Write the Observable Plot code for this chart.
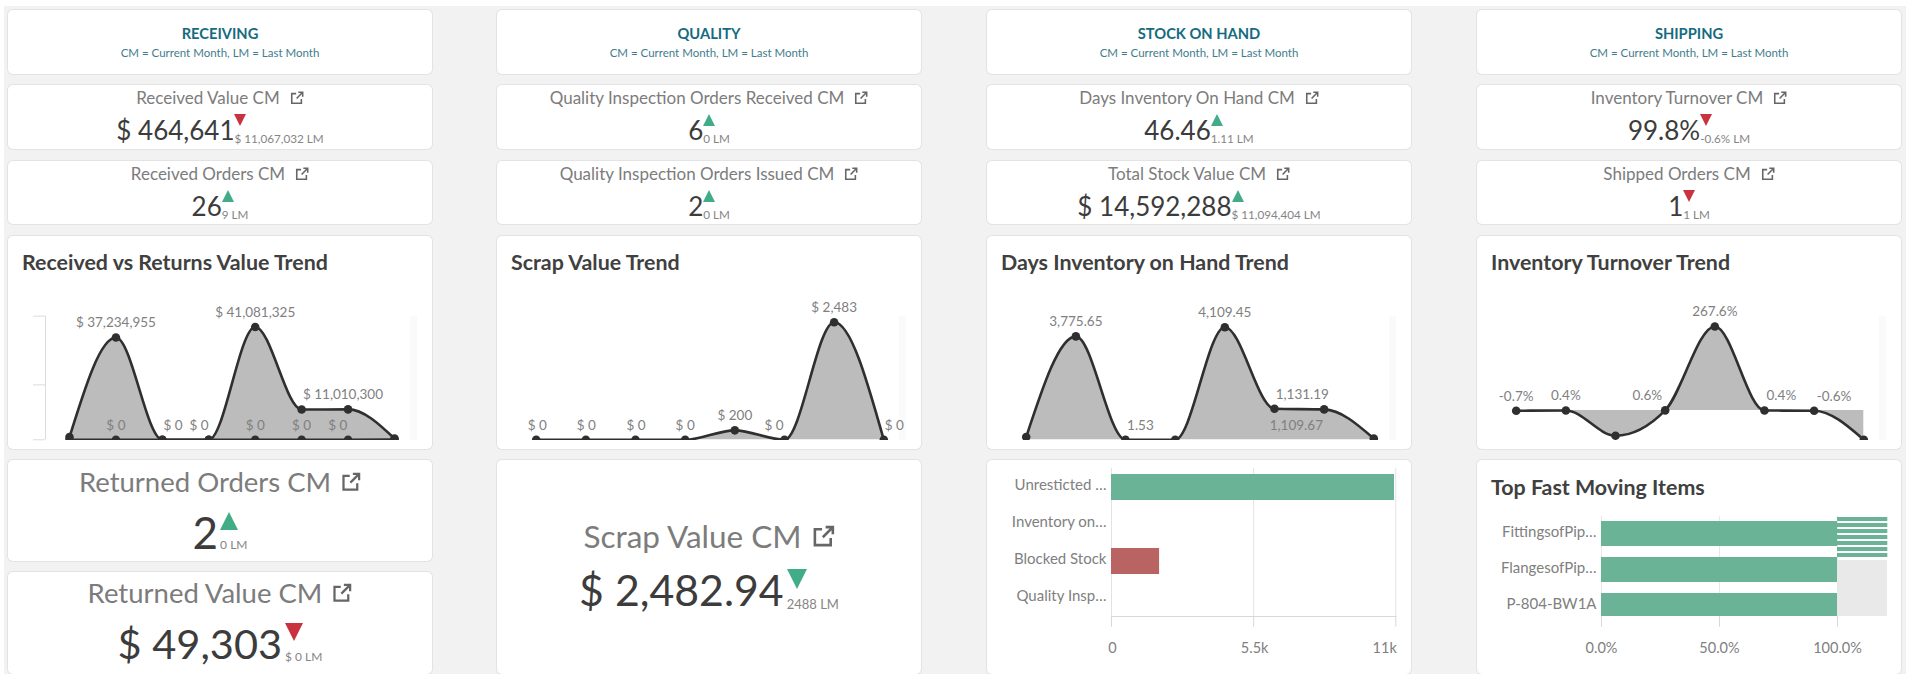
<!DOCTYPE html>
<html>
<head>
<meta charset="utf-8">
<script src="https://cdn.jsdelivr.net/npm/d3@7"></script>
<script src="https://cdn.jsdelivr.net/npm/@observablehq/plot@0.6"></script>
<style>
html,body{margin:0;padding:0;background:#fff;overflow:hidden;font-family:Lato,"Noto Sans",sans-serif}
#root{position:relative;width:1909px;height:674px;overflow:hidden;background:#fff}
#bg{position:absolute;left:4px;top:6px;width:1902px;height:668px;background:#f2f2f2}
.p{position:absolute;background:#fff;border-radius:5px;box-shadow:0 0 0 1px #e3e3e3;overflow:hidden}
.row{position:absolute;left:0;right:0;height:0;display:flex;justify-content:center;line-height:0;white-space:nowrap}
.hd{font-weight:700;color:#146b80}
.sub{color:#3f7c8c}
.lab{color:#7c7c7c}
.val{color:#3c3c3c}
.lm{color:#858585;display:block;position:relative}
.side{position:relative;height:0}
.ic{position:relative;height:0}
.ic svg{position:absolute;left:0}
.tri{position:absolute;left:0;width:0;height:0}
.ttl{position:absolute;left:14px;line-height:0;font-weight:700;color:#404040;white-space:nowrap}
.p svg.plot, .p svg{position:absolute;left:0;top:0}
.strip{position:absolute;background:#fafafa}
</style>
</head>
<body>
<div id="root"><div id="bg"></div></div>
<script>
// ---------- data ----------
const sections = ["RECEIVING","QUALITY","STOCK ON HAND","SHIPPING"];
const legendNote = "CM = Current Month, LM = Last Month";

const kpiLabels = [
  ["Received Value CM","Received Orders CM"],
  ["Quality Inspection Orders Received CM","Quality Inspection Orders Issued CM"],
  ["Days Inventory On Hand CM","Total Stock Value CM"],
  ["Inventory Turnover CM","Shipped Orders CM"]
];
const kpiValues = [["$ 464,641","26"],["6","2"],["46.46","$ 14,592,288"],["99.8%","1"]];
const kpiLast = [["$ 11,067,032 LM","9 LM"],["0 LM","0 LM"],["1.11 LM","$ 11,094,404 LM"],["-0.6% LM","1 LM"]];
const kpiTrend = [["down","up"],["up","up"],["up","up"],["down","down"]];

const trendTitles = ["Received vs Returns Value Trend","Scrap Value Trend","Days Inventory on Hand Trend","Inventory Turnover Trend"];
const slots = [0,1,2,3,4,5,6,7];

const receivedValue = [1000000,37234955,0,0,41081325,11010300,11067032,464641];
const receivedLabelSlots = [1,4,5];
const receivedLabels = ["$ 37,234,955","$ 41,081,325","$ 11,010,300"];
const returnsValue = [0,0,0,0,0,0,0,49303];
const returnsLabelSlots = [1,2,3,4,5,6];
const returnsLabels = ["$ 0","$ 0","$ 0","$ 0","$ 0","$ 0"];
const receivedAxisTicks = [0,20000000,45000000];

const scrapValue = [0,0,0,0,200,0,2483,0];
const scrapLabelSlots = [0,1,2,3,4,5,6,7];
const scrapLabels = ["$ 0","$ 0","$ 0","$ 0","$ 200","$ 0","$ 2,483","$ 0"];

const daysValue = [100,3775.65,1.53,1.5,4109.45,1131.19,1109.67,46.46];
const daysLabelSlots = [1,2,4,5,6];
const daysLabels = ["3,775.65","1.53","4,109.45","1,131.19","1,109.67"];

const turnoverValue = [-0.7,0.4,-80,0.6,267.6,0.4,-0.6,-93];
const turnoverLabelSlots = [0,1,3,4,5,6];
const turnoverLabels = ["-0.7%","0.4%","0.6%","267.6%","0.4%","-0.6%"];

const stockCategories = ["Unresticted …","Inventory on…","Blocked Stock","Quality Insp…"];
const stockValues = [10950,0,1860,0];
const stockColors = ["good","good","bad","good"];
const stockTicks = [0,5500,11000];
const stockTickLabels = ["0","5.5k","11k"];

const fastItems = ["FittingsofPip…","FlangesofPip…","P-804-BW1A"];
const fastValues = [100,100,100];
const fastTicks = [0,50,100];
const fastTickLabels = ["0.0%","50.0%","100.0%"];
const fastOverview = ["a","b","c","d","e","f","g"];
const fastOverviewValues = [100,100,100,100,100,100,100];

const returnedOrders = {label:"Returned Orders CM",value:"2",last:"0 LM",trend:"up"};
const returnedValue = {label:"Returned Value CM",value:"$ 49,303",last:"$ 0 LM",trend:"down"};
const scrapCM = {label:"Scrap Value CM",value:"$ 2,482.94",last:"2488 LM",trend:"goodDown"};

// ---------- layout ----------
const root = document.getElementById("root");
const colX = [8,497,987,1477], W = 424;
const FONT = "Lato";
const GREEN="#6bb396", RED="#b96363", LINE="#2f2f2f", GREY="#808080";
const triColor = {up:"#41ac86",down:"#c8333f",goodDown:"#41ac86"};
const noLabel = () => "";

function panel(x,y,w,h){
  const d=document.createElement("div");d.className="p";
  d.style.cssText=`left:${x}px;top:${y}px;width:${w}px;height:${h}px`;
  root.appendChild(d);return d;
}
function icon(size){
  const s=size;
  return `<span class="ic" style="width:${s}px;margin-left:10px"><svg style="top:${-s/2}px" width="${s}" height="${s}" viewBox="0 0 16 16" fill="none" stroke="#666" stroke-width="1.8"><path d="M7 3H2v11h11V9"/><path d="M9.5 1.5h5v5M14.5 1.5L7.5 8.5"/></svg></span>`;
}
function kpi(p,o,s){
  const up=o.trend==="up";
  const c=triColor[o.trend];
  const tri=up
   ?`border-left:${s.tw/2}px solid transparent;border-right:${s.tw/2}px solid transparent;border-bottom:${s.th}px solid ${c}`
   :`border-left:${s.tw/2}px solid transparent;border-right:${s.tw/2}px solid transparent;border-top:${s.th}px solid ${c}`;
  p.insertAdjacentHTML("beforeend",
   `<div class="row lab" style="top:${s.ly}px;font-size:${s.lf}px"><span>${o.label}</span>${icon(s.ic)}</div>
    <div class="row" style="top:${s.vy}px">
      <span class="val" style="font-size:${s.vf}px">${o.value}</span>
      <span class="side" style="margin-left:${s.gap}px"><span class="tri" style="top:${s.tt}px;${tri}"></span><span class="lm" style="top:${s.lo}px;font-size:${s.mf}px">${o.last}</span></span>
    </div>`);
}
const smallKpi=()=>({ly:13,lf:17,ic:14,vy:45,vf:26,gap:0,tw:13,th:12,tt:-16,lo:8,mf:11.7});

sections.forEach((t,i)=>{
  const h=panel(colX[i],10,W,64);
  h.insertAdjacentHTML("beforeend",
    `<div class="row hd" style="top:23px;font-size:14.7px">${t}</div><div class="row sub" style="top:43px;font-size:11.5px">${legendNote}</div>`);
  [[85,64],[161,63]].forEach(([y,hh],k)=>{
    const p=panel(colX[i],y,W,hh);
    kpi(p,{label:kpiLabels[i][k],value:kpiValues[i][k],last:kpiLast[i][k],trend:kpiTrend[i][k]},smallKpi());
  });
});

// ---------- trend charts ----------
const TH=213, BASE=203.3, FRAME=204;
function trend(col,title,o){
  const p=panel(colX[col],236,W,TH);
  p.insertAdjacentHTML("beforeend",`<div class="ttl" style="top:26px;font-size:21.4px">${title}</div><div class="strip" style="left:402px;top:80px;width:7px;height:124px"></div>`);
  const rows=(vals)=>slots.map(s=>({s,v:vals[s]}));
  const marks=[];
  if(o.axis) marks.push(
    Plot.axisY(o.axis,{anchor:"left",tickSize:12,tickFormat:noLabel,label:null,stroke:"#dcdcdc"}),
    Plot.ruleX([(37-o.xr[0])/((o.xr[1]-o.xr[0])/7)],{y1:o.axis[0],y2:o.axis[o.axis.length-1],stroke:"#dcdcdc"})
  );
  o.series.forEach(v=>{
    const data=rows(v);
    marks.push(Plot.areaY(data,{x:"s",y1:0,y2:"v",curve:"monotone-x",fill:"#bcbcbc",clip:true}));
  });
  o.series.forEach(v=>{
    const data=rows(v);
    marks.push(Plot.lineY(data,{x:"s",y:"v",curve:"monotone-x",stroke:LINE,strokeWidth:2.6,clip:true}));
    marks.push(Plot.dot(data,{x:"s",y:"v",r:4.3,fill:LINE,clip:true}));
  });
  o.labels.forEach(L=>{
    const vals=L.of, rowsL=L.slots.map((s,j)=>({x:s+(L.nudge?L.nudge[j]:0),y:vals[s],t:L.text[j]}));
    const top=rowsL.filter((d,j)=>!(L.below||[]).includes(j));
    const bot=rowsL.filter((d,j)=>(L.below||[]).includes(j));
    marks.push(Plot.text(top,{x:"x",y:"y",text:"t",dy:-14.5,fill:GREY,fontSize:13.5}));
    if(bot.length) marks.push(Plot.text(bot,{x:"x",y:"y",text:"t",dy:16,fill:GREY,fontSize:13.5}));
  });
  const chart=Plot.plot({
    width:W,height:TH,marginLeft:o.axis?37:0,marginRight:0,marginTop:0,marginBottom:TH-FRAME,
    x:{domain:[0,7],range:o.xr,axis:null},
    y:{domain:o.yd,range:o.yr,axis:null},
    style:{background:"transparent",fontFamily:FONT,overflow:"visible"},
    marks
  });
  p.appendChild(chart);
}
const XR=[38.7,386.3];
trend(0,trendTitles[0],{xr:[61,386],yd:[0,45000000],yr:[BASE,79.7],axis:receivedAxisTicks,series:[receivedValue,returnsValue],
  labels:[{of:receivedValue,slots:receivedLabelSlots,text:receivedLabels,nudge:[0,0,0.89]},
          {of:returnsValue,slots:returnsLabelSlots,text:returnsLabels,nudge:[0,0.23,-0.21,0,0,-0.22]}]});
trend(1,trendTitles[1],{xr:XR,yd:[0,2483],yr:[BASE,85.7],series:[scrapValue],
  labels:[{of:scrapValue,slots:scrapLabelSlots,text:scrapLabels,nudge:[0.02,0.01,0.01,0,0,-0.21,0,0.21]}]});
trend(2,trendTitles[2],{xr:XR,yd:[0,4109.45],yr:[BASE,90.7],series:[daysValue],
  labels:[{of:daysValue,slots:daysLabelSlots,text:daysLabels,nudge:[0,0.3,0,0.56,-0.56],below:[4]}]});
trend(3,trendTitles[3],{xr:XR,yd:[-93,267.6],yr:[BASE,90],series:[turnoverValue],
  labels:[{of:turnoverValue,slots:turnoverLabelSlots,text:turnoverLabels,nudge:[0,0,-0.36,0,0.34,0.4]}]});

// ---------- bottom row ----------
kpi(panel(colX[0],460,W,101),returnedOrders,{ly:22,lf:27.5,ic:20,vy:72,vf:44,gap:2,tw:19,th:18,tt:-20,lo:13,mf:12});
kpi(panel(colX[0],572,W,102),returnedValue,{ly:21,lf:27.5,ic:20,vy:71,vf:41.5,gap:3,tw:18,th:18,tt:-20,lo:14,mf:12});
kpi(panel(colX[1],460,W,214),scrapCM,{ly:76,lf:31.5,ic:23,vy:130,vf:42.8,gap:3,tw:20,th:20,tt:-21,lo:14,mf:13});

function barAxis(ticks,labels){
  return ticks.map((v,i)=>({v,t:labels[i]}));
}
// stock bars
(function(){
  const p=panel(colX[2],460,W,214);
  const data=stockCategories.map((c,i)=>({c,v:stockValues[i],k:stockColors[i]}));
  const tk=barAxis(stockTicks,stockTickLabels);
  p.appendChild(Plot.plot({
    width:W,height:214,marginLeft:124,marginRight:15.7,marginTop:8,marginBottom:58,
    x:{domain:[0,11000],axis:null},
    y:{domain:stockCategories,paddingInner:0.3,paddingOuter:0.15,axis:null},
    style:{background:"transparent",fontFamily:FONT},
    marks:[
      Plot.ruleX(stockTicks,{stroke:"#e3e3e3"}),
      Plot.frame({anchor:"bottom",stroke:"#d8d8d8"}),
      Plot.axisX(stockTicks,{anchor:"bottom",tickSize:10.7,tickFormat:noLabel,label:null,stroke:"#d8d8d8"}),
      Plot.barX(data,{x:"v",y:"c",fill:d=>d.k==="good"?GREEN:RED}),
      Plot.axisY({anchor:"left",tickSize:0,tickPadding:5,label:null,fill:GREY,fontSize:15,dy:-2}),
      Plot.text(tk.slice(0,2),{x:"v",text:"t",frameAnchor:"bottom",lineAnchor:"middle",dy:32,dx:1,fill:GREY,fontSize:14.5}),
      Plot.text(tk.slice(2),{x:"v",text:"t",frameAnchor:"bottom",lineAnchor:"middle",dy:32,dx:1,textAnchor:"end",fill:GREY,fontSize:14.5})
    ]
  }));
})();
// fast moving items
(function(){
  const p=panel(colX[3],460,W,214);
  p.insertAdjacentHTML("beforeend",`<div class="ttl" style="top:27px;font-size:21.4px">Top Fast Moving Items</div><div style="position:absolute;left:360px;top:100px;width:50.3px;height:56px;background:#e9e9e9"></div>`);
  const data=fastItems.map((c,i)=>({c,v:fastValues[i]}));
  const tk=barAxis(fastTicks,fastTickLabels);
  p.appendChild(Plot.plot({
    width:W,height:214,marginLeft:124,marginRight:64,marginTop:55.7,marginBottom:58,
    x:{domain:[0,100],axis:null},
    y:{domain:fastItems,range:[55.3,163.3],paddingInner:0.3,paddingOuter:0.15,axis:null},
    style:{background:"transparent",fontFamily:FONT},
    marks:[
      Plot.ruleX(fastTicks,{stroke:"#e8e8e8"}),
      Plot.axisX(fastTicks,{anchor:"bottom",tickSize:10.7,tickFormat:noLabel,label:null,stroke:"#d8d8d8"}),
      Plot.barX(data,{x:"v",y:"c",fill:GREEN,clip:true}),
      Plot.axisY({anchor:"left",tickSize:0,tickPadding:5,label:null,fill:GREY,fontSize:15,dy:-1.5}),
      Plot.text(tk,{x:"v",text:"t",frameAnchor:"bottom",lineAnchor:"middle",dy:32,fill:GREY,fontSize:14.5})
    ]
  }));
  const ov=fastOverview.map((c,i)=>({c,v:fastOverviewValues[i]}));
  const mini=Plot.plot({
    width:W,height:214,marginLeft:360,marginRight:13.7,marginTop:55.7,marginBottom:116.3,
    x:{domain:[0,100],axis:null},
    y:{domain:fastOverview,paddingInner:0.28,paddingOuter:0,axis:null},
    style:{background:"transparent",fontFamily:FONT},
    marks:[Plot.barX(ov,{x:"v",y:"c",fill:GREEN})]
  });
  p.appendChild(mini);
})();
</script>
</body>
</html>
